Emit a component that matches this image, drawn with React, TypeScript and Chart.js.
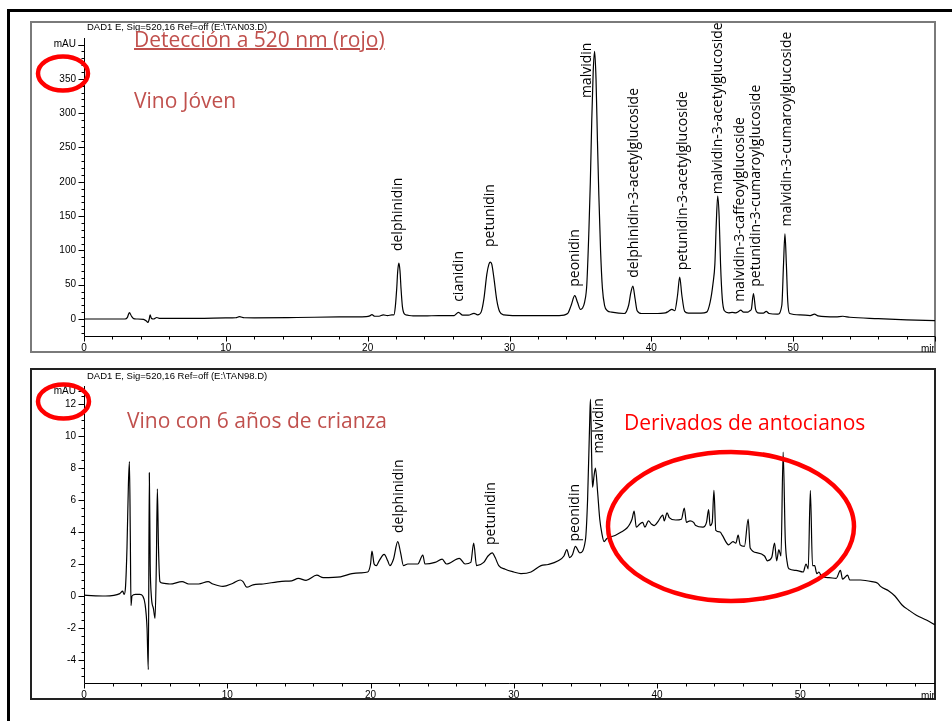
import React, { useEffect, useRef } from "react";
import { Chart, registerables } from "chart.js";

Chart.register(...registerables);

const W = 952;
const H = 721;

// ---------- Young wine (TAN03): retention time (min) / absorbance (mAU) ----------
const youngTimes = [
  0, 2.9, 3.05, 3.2, 3.35, 3.5, 3.7, 4.2, 4.4, 4.5, 4.6, 4.66, 4.75, 4.9, 5.13, 5.35, 6, 8, 10, 10.7,
  10.96, 11.3, 12, 15, 18, 19.9, 20.15, 20.3, 20.5, 20.8, 21.1, 21.4, 21.7, 21.85, 21.95, 22.05, 22.12,
  22.2, 22.28, 22.35, 22.45, 22.6, 22.8, 23.2, 24, 25, 26.1, 26.4, 26.7, 27.1, 27.5, 27.75, 28.0, 28.2,
  28.4, 28.55, 28.65, 28.75, 28.9, 29.1, 29.3, 29.6, 30.5, 32, 33.5, 34.1, 34.35, 34.6, 34.8, 35.0,
  35.15, 35.3, 35.45, 35.6, 35.7, 35.8, 35.9, 36.0, 36.1, 36.2, 36.3, 36.42, 36.55, 36.7, 36.9, 37.2,
  38.1, 38.4, 38.55, 38.7, 38.85, 39.0, 39.3, 40.2, 41.0, 41.2, 41.45, 41.65, 41.85, 42.0, 42.15, 42.35,
  42.6, 43.5, 43.9, 44.15, 44.35, 44.48, 44.58, 44.68, 44.78, 44.88, 45.0, 45.15, 45.45, 45.7, 45.95,
  46.15, 46.3, 46.5, 46.8, 46.95, 47.05, 47.2, 47.35, 47.5, 47.9, 48.1, 48.3, 48.9, 49.2, 49.32, 49.42,
  49.52, 49.62, 49.75, 50.5, 51.2, 51.5, 51.75, 53.0, 53.5, 54.0, 56.0, 58.0, 60.0,
];
const youngAbs = [
  0, 0, 2, 9.3, 4, 0.5, 0, -0.5, -3, -5, 0, 6, 1, 0, 2.2, 0.8, 1, 1, 1.5, 1.8,
  3.3, 1.8, 1.7, 2.2, 3, 3.5, 4.5, 6.3, 4, 4, 6, 5, 6, 6, 18, 45, 70,
  81.5, 70, 45, 18, 7, 5.5, 4.5, 4.5, 5, 5, 9.7, 5.5, 5.5, 8.3, 6, 10, 30,
  65, 80, 83, 80, 60, 28, 11, 6, 5, 5, 5, 8, 20, 34, 24, 14,
  16, 25, 50, 130, 200, 290, 360, 390, 350, 260, 180, 100, 45, 20, 12, 10,
  8, 20, 38, 48, 30, 12, 8, 8, 9, 11, 14, 12, 35, 61, 35, 11,
  8.5, 8.5, 10, 25, 52, 80, 140, 179, 150, 80, 30, 12, 9, 9.5, 9,
  11, 13, 10, 10, 12, 14, 37, 14, 9, 8.5, 11, 8, 7, 20, 80, 124,
  80, 25, 8, 6, 5, 7, 4.5, 3, 4, 2.5, 0.5, -1.2, -2.5,
];

const youngPeakNames = [
  "delphinidin",
  "cianidin",
  "petunidin",
  "peonidin",
  "malvidin",
  "delphinidin-3-acetylglucoside",
  "petunidin-3-acetylglucoside",
  "malvidin-3-acetylglucoside",
  "malvidin-3-caffeoylglucoside",
  "petunidin-3-cumaroylglucoside",
  "malvidin-3-cumaroylglucoside",
];
const youngPeakTimes = [22.16, 26.46, 28.65, 34.65, 35.45, 38.8, 42.22, 44.73, 46.23, 47.35, 49.55];
const youngPeakLevels = [99, 25, 105, 47, 322, 60, 71, 182, 25, 47, 135];

// ---------- Aged wine (TAN98), 6 years ----------
const agedTimes = [
  0, 1.5, 2.5, 2.7, 2.8, 2.9, 3.0, 3.1, 3.17, 3.23, 3.28, 3.35, 3.6, 3.9, 4.1, 4.26, 4.4, 4.49, 4.56,
  4.62, 4.7, 4.85, 4.96, 5.05, 5.12, 5.2, 5.3, 5.5, 6.0, 6.85, 7.3, 8.0, 8.66, 9.0, 9.7, 10.4, 10.9,
  11.1, 11.36, 11.8, 12.5, 13.8, 14.5, 14.96, 15.5, 16.25, 16.7, 17.9, 18.7, 19.3, 19.8, 20.0, 20.1,
  20.25, 20.4, 20.6, 20.95, 21.2, 21.35, 21.6, 21.9, 22.1, 22.3, 22.6, 23.3, 23.65, 23.8, 24.5, 25.0,
  25.3, 26.2, 26.6, 27.0, 27.2, 27.4, 27.9, 28.2, 28.5, 28.7, 28.95, 29.4, 30.0, 30.5, 31.2, 31.9,
  32.4, 33.1, 33.5, 33.7, 33.9, 34.1, 34.3, 34.6, 35.0, 35.15, 35.3, 35.35, 35.45, 35.5, 35.6, 35.7,
  35.85, 36.0, 36.15, 36.3, 36.5, 36.8, 37.1, 37.5, 37.9, 38.1, 38.25, 38.4, 38.55, 38.8, 39.0, 39.15,
  39.4, 39.6, 39.8, 40.1, 40.4, 40.5, 40.7, 40.85, 41.3, 41.7, 41.9, 42.05, 42.3, 42.55, 42.7, 43.2,
  43.45, 43.6, 43.7, 43.85, 43.97, 44.1, 44.4, 44.55, 45.0, 45.3, 45.5, 45.66, 45.8, 46.1, 46.36, 46.5,
  47.0, 47.5, 47.7, 48.0, 48.2, 48.35, 48.5, 48.65, 48.8, 48.95, 49.1, 49.2, 49.7, 50.2, 50.4, 50.55,
  50.7, 50.85, 51.0, 51.15, 51.3, 51.5, 52.0, 52.5, 52.8, 52.95, 53.3, 53.45, 54.2, 55.0, 55.4, 55.6,
  56.2, 56.6, 57.1, 57.6, 58.1, 58.8, 59.4,
];
const agedAbs = [
  0.05, 0.0, 0.15, 0.3, 0.1, 0.6, 3.0, 7.0, 8.4, 4.0, -0.6, 0.0, 0.1, 0.1, 0.0, -0.5, -2.0, -4.6, 7.7,
  2.0, 0.0, -0.8, -1.4, 2.0, 6.7, 3.0, 0.9, 0.8, 0.75, 0.9, 0.75, 0.75, 0.9, 0.75, 0.6, 0.8, 1.0,
  0.9, 0.55, 0.7, 0.75, 0.92, 0.95, 1.1, 0.98, 1.3, 1.15, 1.2, 1.4, 1.45, 1.5, 2.0, 2.8,
  2.0, 1.9, 2.2, 2.6, 2.2, 1.9, 2.3, 3.4, 2.7, 1.9, 2.0, 2.0, 2.56, 2.0, 2.1, 2.3,
  2.0, 2.35, 2.0, 2.1, 3.3, 1.9, 2.1, 2.5, 2.7, 2.4, 1.9, 1.67, 1.5, 1.4, 1.5, 1.9,
  1.97, 2.2, 2.5, 2.9, 2.4, 2.6, 3.1, 2.7, 3.5, 6.0, 11.0, 12.3, 8.0, 6.8, 7.5, 8.0,
  6.5, 4.8, 3.9, 3.4, 3.6, 3.7, 3.8, 4.0, 4.25, 4.5, 4.8, 5.3, 4.3, 4.5, 4.6, 4.3,
  4.7, 4.5, 4.4, 4.7, 5.06, 4.7, 5.2, 4.9, 4.75, 4.8, 5.5, 4.6, 4.7, 4.6, 4.4, 4.3,
  4.6, 5.4, 4.4, 4.6, 6.6, 4.1, 4.0, 3.8, 3.2, 3.4, 3.3, 3.8, 3.2, 3.1, 4.8, 3.0,
  2.7, 2.5, 2.2, 2.4, 3.3, 2.2, 2.9, 2.5, 9.0, 3.5, 2.0, 1.7, 1.6, 1.5, 2.0, 1.7,
  6.6, 1.9, 1.9, 1.4, 1.5, 1.2, 1.15, 1.1, 1.6, 1.05, 1.3, 1.0, 1.0, 0.9, 0.8, 0.6,
  0.3, 0.0, -0.56, -0.9, -1.2, -1.5, -1.8,
];

const agedPeakNames = ["delphinidin", "petunidin", "peonidin", "malvidin"];
const agedPeakTimes = [22.0, 28.4, 34.3, 35.95];
const agedPeakLevels = [3.94, 3.19, 3.4, 8.9];

// ---------- Axis labels ----------
const xTickLabels = [0, 10, 20, 30, 40, 50];
const youngYTickLabels = [0, 50, 100, 150, 200, 250, 300, 350];
const youngUnitTick = 400;
const agedYTickLabels = [-4, -2, 0, 2, 4, 6, 8, 10, 12];
const agedUnitTick = 12.8;

type PanelCfg = {
  key: string;
  times: number[];
  values: number[];
  names: string[];
  peakTimes: number[];
  peakLevels: number[];
  yLabels: number[];
  unitTick: number;
  yMin: number;
  yMax: number;
  xMax: number;
  yMinorStep: number;
  yMajorStep: number;
  padTop: number;
  padBottom: number;
  header: string;
};

function makePlugin(cfg: PanelCfg) {
  return {
    id: "chrom-" + cfg.key,
    afterDraw(chart: any) {
      const ctx = chart.ctx as CanvasRenderingContext2D;
      const xs = chart.scales.x;
      const ys = chart.scales.y;
      const a = chart.chartArea;
      ctx.save();
      ctx.strokeStyle = "#000";
      ctx.lineWidth = 1;
      ctx.beginPath();
      const ax = Math.round(a.left) + 0.5;
      const ay = Math.round(a.bottom) + 0.5;
      ctx.moveTo(ax, a.top);
      ctx.lineTo(ax, ay);
      ctx.lineTo(a.right, ay);
      // y ticks
      const nMin = Math.ceil(cfg.yMin / cfg.yMinorStep - 1e-9);
      const nMax = Math.floor(cfg.yMax / cfg.yMinorStep + 1e-9);
      const ratio = Math.round(cfg.yMajorStep / cfg.yMinorStep);
      for (let i = nMin; i <= nMax; i++) {
        const v = i * cfg.yMinorStep;
        if (v > cfg.unitTick + 1e-9) continue;
        const p = Math.round(ys.getPixelForValue(v)) + 0.5;
        const major = i % ratio === 0;
        ctx.moveTo(ax - (major ? 6 : 3), p);
        ctx.lineTo(ax, p);
      }
      {
        const p = Math.round(ys.getPixelForValue(cfg.unitTick)) + 0.5;
        ctx.moveTo(ax - 6, p);
        ctx.lineTo(ax, p);
      }
      // x ticks
      for (let i = 0; i <= Math.floor(cfg.xMax / 2); i++) {
        const v = i * 2;
        const p = Math.round(xs.getPixelForValue(v)) + 0.5;
        const major = i % 5 === 0;
        ctx.moveTo(p, ay);
        ctx.lineTo(p, ay + (major ? 5 : 3));
      }
      ctx.stroke();

      // header
      ctx.fillStyle = "#000";
      ctx.font = "9.5px 'Liberation Sans', Arial, sans-serif";
      ctx.textBaseline = "middle";
      ctx.textAlign = "left";
      ctx.fillText(cfg.header, a.left + 3, a.top - (cfg.key === "young" ? 11 : 10));
      // unit
      ctx.font = "10px 'Liberation Sans', Arial, sans-serif";
      ctx.save();
      ctx.beginPath();
      ctx.rect(a.left, a.bottom, a.right - a.left - 1, 30);
      ctx.clip();
      ctx.fillText("min", a.right - 14, a.bottom + 13);
      ctx.restore();

      // peak labels
      ctx.font = "14px 'Open Sans', sans-serif";
      ctx.fillStyle = "#000";
      ctx.textAlign = "left";
      ctx.textBaseline = "middle";
      cfg.names.forEach((name, i) => {
        const px = xs.getPixelForValue(cfg.peakTimes[i]);
        const py = ys.getPixelForValue(cfg.peakLevels[i]);
        ctx.save();
        ctx.translate(px, py);
        ctx.rotate(-Math.PI / 2);
        ctx.fillText(name, 0, 0);
        ctx.restore();
      });
      ctx.restore();
    },
  };
}

function makeConfig(cfg: PanelCfg): any {
  const tickFont = { family: "'Liberation Sans', Arial, sans-serif", size: 10 };
  return {
    type: "line",
    data: {
      datasets: [
        {
          data: cfg.times.map((t, i) => ({ x: t, y: cfg.values[i] })),
          borderColor: "#000",
          borderWidth: 1.2,
          pointRadius: 0,
          fill: false,
          cubicInterpolationMode: "monotone",
        },
      ],
    },
    options: {
      animation: false,
      responsive: false,
      maintainAspectRatio: false,
      events: [],
      layout: { padding: { left: 44, right: 17, top: cfg.padTop, bottom: cfg.padBottom } },
      plugins: { legend: { display: false }, tooltip: { enabled: false }, title: { display: false } },
      scales: {
        x: {
          type: "linear",
          min: 0,
          max: cfg.xMax,
          afterBuildTicks: (s: any) => {
            s.ticks = xTickLabels.map((v) => ({ value: v }));
          },
          afterFit: (s: any) => {
            s.height = 20;
          },
          grid: { display: false, drawTicks: false },
          border: { display: false },
          ticks: {
            padding: 6,
            autoSkip: false,
            maxRotation: 0,
            color: "#000",
            font: tickFont,
            callback: (v: any) => String(v),
          },
        },
        y: {
          type: "linear",
          min: cfg.yMin,
          max: cfg.yMax,
          afterBuildTicks: (s: any) => {
            s.ticks = [...cfg.yLabels, cfg.unitTick].map((v) => ({ value: v }));
          },
          afterFit: (s: any) => {
            s.width = 40;
          },
          grid: { display: false, drawTicks: false },
          border: { display: false },
          ticks: {
            padding: 8,
            autoSkip: false,
            color: "#000",
            font: tickFont,
            callback: (v: any) => (Math.abs(v - cfg.unitTick) < 1e-6 ? "mAU" : String(v)),
          },
        },
      },
    },
    plugins: [makePlugin(cfg)],
  };
}

const youngCfg: PanelCfg = {
  key: "young",
  times: youngTimes,
  values: youngAbs,
  names: youngPeakNames,
  peakTimes: youngPeakTimes,
  peakLevels: youngPeakLevels,
  yLabels: youngYTickLabels,
  unitTick: youngUnitTick,
  yMin: -24.8,
  yMax: 409.6,
  xMax: 60,
  yMinorStep: 10,
  yMajorStep: 50,
  padTop: 38,
  padBottom: 365,
  header: "DAD1 E, Sig=520,16 Ref=off (E:\\TAN03.D)",
};

const agedCfg: PanelCfg = {
  key: "aged",
  times: agedTimes,
  values: agedAbs,
  names: agedPeakNames,
  peakTimes: agedPeakTimes,
  peakLevels: agedPeakLevels,
  yLabels: agedYTickLabels,
  unitTick: agedUnitTick,
  yMin: -5.4375,
  yMax: 13.125,
  xMax: 59.4,
  yMinorStep: 0.5,
  yMajorStep: 2,
  padTop: 386,
  padBottom: 18,
  header: "DAD1 E, Sig=520,16 Ref=off (E:\\TAN98.D)",
};

function ChromCanvas({ cfg }: { cfg: PanelCfg }) {
  const ref = useRef<HTMLCanvasElement | null>(null);
  useEffect(() => {
    if (!ref.current) return;
    const chart = new Chart(ref.current, makeConfig(cfg));
    return () => chart.destroy();
  }, [cfg]);
  return (
    <canvas
      ref={ref}
      width={W}
      height={H}
      style={{ position: "absolute", left: 0, top: 0, width: W, height: H }}
    />
  );
}

const noteFont: React.CSSProperties = {
  position: "absolute",
  fontFamily: "'Open Sans', sans-serif",
  fontSize: 21,
  lineHeight: "21px",
  whiteSpace: "nowrap",
  margin: 0,
};

export default function App() {
  return (
    <div
      style={{
        position: "absolute",
        left: 0,
        top: 0,
        width: W,
        height: H,
        background: "#fff",
        overflow: "hidden",
      }}
    >
      {/* slide frame */}
      <div style={{ position: "absolute", left: 8, top: 9, width: 944, height: 3, background: "#000" }} />
      <div style={{ position: "absolute", left: 7, top: 9, width: 3, height: 712, background: "#000" }} />
      {/* panel borders */}
      <div
        style={{
          position: "absolute",
          left: 30,
          top: 21,
          width: 906,
          height: 332,
          border: "2px solid #7a7a7a",
          boxSizing: "border-box",
        }}
      />
      <div
        style={{
          position: "absolute",
          left: 30,
          top: 368,
          width: 906,
          height: 332,
          border: "2px solid #222",
          boxSizing: "border-box",
        }}
      />
      <ChromCanvas cfg={youngCfg} />
      <ChromCanvas cfg={agedCfg} />
      <svg
        width={W}
        height={H}
        style={{ position: "absolute", left: 0, top: 0, pointerEvents: "none" }}
      >
        <ellipse cx={63} cy={73.5} rx={25} ry={17} fill="none" stroke="#ff0000" strokeWidth={4.5} />
        <ellipse cx={63.5} cy={401.5} rx={25.5} ry={17} fill="none" stroke="#ff0000" strokeWidth={4.5} />
        <ellipse cx={731} cy={526.5} rx={123} ry={74.5} fill="none" stroke="#ff0000" strokeWidth={4.5} />
      </svg>
      <div
        style={{
          ...noteFont,
          left: 134,
          top: 28.5,
          color: "#C0504D",
          textDecoration: "underline",
          textDecorationThickness: "1.5px",
        }}
      >
        Detección a 520 nm (rojo)
      </div>
      <div style={{ ...noteFont, left: 134, top: 89.5, color: "#C0504D" }}>Vino Jóven</div>
      <div style={{ ...noteFont, left: 127, top: 409.5, color: "#C0504D" }}>Vino con 6 años de crianza</div>
      <div style={{ ...noteFont, left: 624, top: 412, color: "#FF0000" }}>Derivados de antocianos</div>
    </div>
  );
}
